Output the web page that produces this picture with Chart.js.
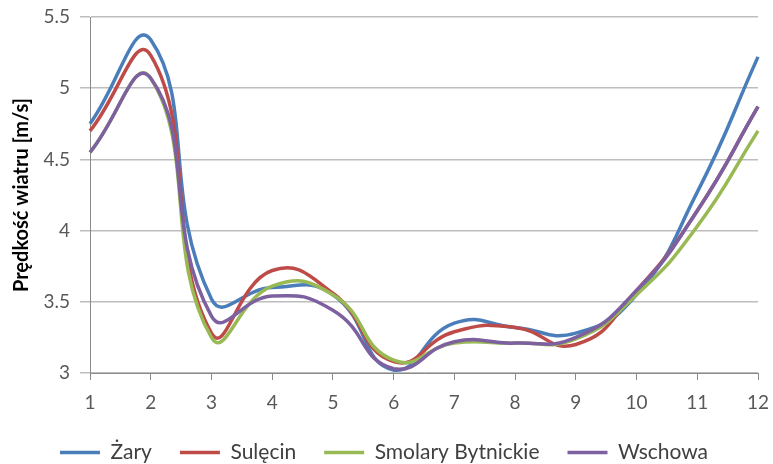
<!DOCTYPE html>
<html>
<head>
<meta charset="utf-8">
<script src="https://cdn.jsdelivr.net/npm/chart.js@4.4.0/dist/chart.umd.min.js"></script>
<style>
  body { margin: 0; background: #fff; }
  #windChart { display: block; }
</style>
</head>
<body>
<canvas id="windChart" width="773" height="464"></canvas>
<script>
// miesiące 1..12
const months = ["1", "2", "3", "4", "5", "6", "7", "8", "9", "10", "11", "12"];

const zary     = [4.75, 5.34, 3.52, 3.60, 3.55, 3.02, 3.35, 3.32, 3.28, 3.55, 4.27, 5.22];
const sulecin  = [4.70, 5.23, 3.28, 3.72, 3.56, 3.08, 3.29, 3.32, 3.20, 3.58, 4.14, 4.87];
const smolary  = [4.55, 5.07, 3.25, 3.61, 3.55, 3.09, 3.21, 3.21, 3.24, 3.55, 4.03, 4.70];
const wschowa  = [4.55, 5.07, 3.40, 3.54, 3.44, 3.03, 3.22, 3.21, 3.25, 3.58, 4.14, 4.87];

const FONT = "Lato, 'Open Sans', sans-serif";

function series(label, data, color, order) {
  return {
    label: label,
    data: data,
    borderColor: color,
    backgroundColor: color,
    borderWidth: 3.5,
    pointRadius: 0,
    tension: 0.5,
    clip: 6,
    order: order,
  };
}

const config = {
  type: "line",
  data: {
    labels: months,
    datasets: [
      series("Żary", zary, "#4a7ebb", 4),
      series("Sulęcin", sulecin, "#be4b48", 3),
      series("Smolary Bytnickie", smolary, "#98b954", 2),
      series("Wschowa", wschowa, "#7d60a0", 1),
    ],
  },
  options: {
    responsive: false,
    animation: false,
    devicePixelRatio: 1,
    layout: { padding: { top: 17, right: 15, left: 10, bottom: -9 } },
    plugins: {
      tooltip: { enabled: false },
      legend: {
        position: "bottom",
        reverse: true,
        labels: {
          usePointStyle: true,
          pointStyle: "line",
          pointStyleWidth: 40,
          color: "#404040",
          font: { family: FONT, size: 21 },
          padding: 28,
        },
      },
    },
    scales: {
      x: {
        afterFit: (s) => { s.height = 41; s.paddingLeft = 0; s.paddingRight = 0; },
        grid: { drawOnChartArea: false, tickLength: 7, color: "#8a8a8a" },
        border: { color: "#8a8a8a" },
        ticks: { color: "#595959", font: { family: FONT, size: 19 }, padding: 11, maxRotation: 0 },
      },
      y: {
        min: 3,
        max: 5.5,
        afterFit: (s) => { s.width = 80; s.paddingTop = 0; s.paddingBottom = 0; },
        grid: { color: "#bdbdbd", tickLength: 10, lineWidth: 1.5 },
        border: { color: "#8a8a8a" },
        ticks: {
          stepSize: 0.5,
          color: "#595959",
          font: { family: FONT, size: 19 },
          padding: 10,
          callback: (v) => String(v),
        },
        title: {
          display: true,
          text: "Prędkość wiatru [m/s]",
          color: "#000",
          font: { family: FONT, size: 20, weight: "bold" },
          padding: 0,
        },
      },
    },
  },
};

const windChart = new Chart(document.getElementById("windChart"), config);
</script>
</body>
</html>
